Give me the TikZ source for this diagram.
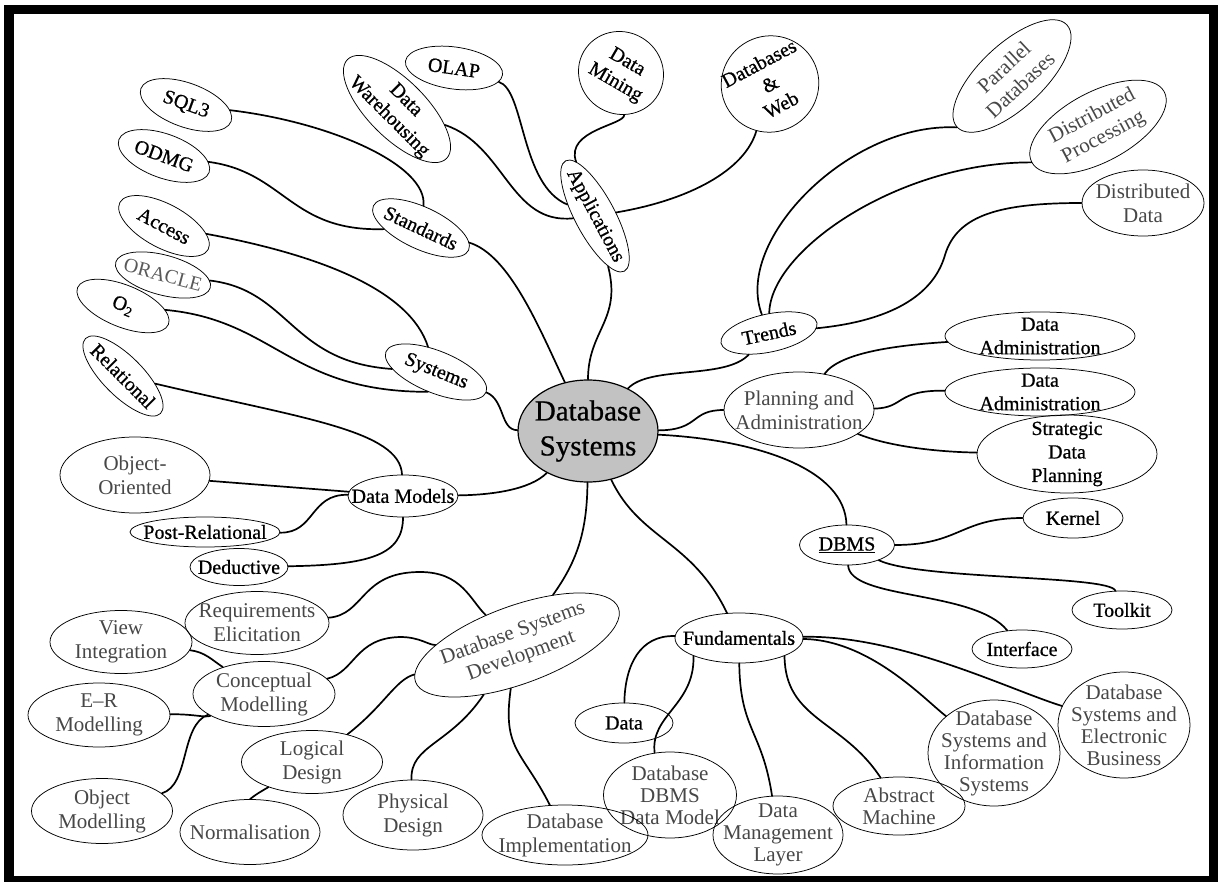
\documentclass[tikz,border=0pt]{standalone}
\usepackage{fontspec}
\setmainfont{Liberation Serif}
\newfontfamily\bkfont{Liberation Serif}[FakeBold=0.7]
\usetikzlibrary{shapes.geometric}
\tikzset{
  el/.style={draw, ellipse, inner sep=0pt, line width=0.75pt},
  tx/.style={font=\bkfont\fontsize{20}{23.5}\selectfont, align=center, inner sep=0pt, text=black},
  gr/.style={text=black!72, font=\rmfamily\fontsize{21}{24}\selectfont},
  gc/.style={text=black!72, font=\rmfamily\fontsize{21}{22}\selectfont},
  conn/.style={line width=1.7pt, line cap=round},
}
\newcommand\mmnode[8]{%
  \node[el, minimum width=#4pt, minimum height=#5pt, rotate=#6] (#1) at (#2,#3) {};
  \node[tx, rotate=#6, #7] (#1t) at (#1.center) {#8};}
\begin{document}
\begin{tikzpicture}[x=1pt,y=-1pt]
\useasboundingbox (0,0) rectangle (1223,882);
\draw[line width=9.5pt] (8.75,9.75) rectangle (1213.5,881);

% centre
\node[el, fill=black!24, line width=1.2pt, minimum width=140pt, minimum height=102pt] (ds) at (588,431) {};
\node[tx, font=\bkfont\fontsize{29}{35}\selectfont] (dst) at (ds.center) {Database\\Systems};

% applications
\mmnode{app}{595}{216}{125}{40}{-62}{}{Applications}
\mmnode{olap}{454}{68}{98}{42}{-8}{}{OLAP}
\mmnode{dw}{397}{109}{140}{58}{-45}{}{Data\\Warehousing}
\mmnode{dmine}{621}{73}{86}{82}{-30}{}{Data\\Mining}
\mmnode{web}{770}{84}{98}{96}{28}{}{Databases\\\&\\Web}

% standards
\mmnode{std}{421}{228}{105}{42}{-25}{}{Standards}
\mmnode{sql}{186}{105}{96}{44}{-20}{}{SQL3}
\mmnode{odmg}{164}{156}{96}{44}{-20}{}{ODMG}

% systems
\mmnode{sys}{436}{372}{108}{42}{-22}{}{Systems}
\mmnode{acc}{164}{226}{100}{44}{-28}{}{Access}
\mmnode{ora}{163}{275}{98}{40}{-15}{text=black!65, font=\rmfamily\fontsize{20}{23}\selectfont}{ORACLE}
\mmnode{otwo}{123}{306}{98}{42}{-22}{}{O\textsubscript{2}}

% data models
\mmnode{dm}{403}{496}{110}{42}{0}{}{Data Models}
\mmnode{rel}{123}{376}{106}{40}{-45}{}{Relational}
\mmnode{oo}{135}{475}{150}{76}{0}{gr}{Object-\\Oriented}
\mmnode{pr}{205}{532}{150}{30}{0}{}{Post-Relational}
\mmnode{ded}{239}{567}{98}{37}{0}{}{Deductive}

% trends
\mmnode{tr}{769}{333}{98}{38}{12}{}{Trends}
\mmnode{par}{1012}{76}{150}{64}{43}{gr}{Parallel\\Databases}
\mmnode{dp}{1098}{127}{150}{70}{28}{gr}{Distributed\\Processing}
\mmnode{dd}{1143}{203}{122}{66}{0}{gr}{Distributed\\Data}

% planning
\mmnode{plan}{799}{410}{150}{76}{0}{gr}{Planning and\\Administration}
\mmnode{daa}{1040}{336}{190}{48}{0}{}{Data\\Administration}
\mmnode{dab}{1040}{392}{190}{48}{0}{}{Data\\Administration}
\mmnode{sdp}{1067}{454}{180}{78}{0}{}{Strategic\\Data\\Planning}

% DBMS
\mmnode{dbms}{847}{545}{95}{40}{0}{}{\underline{DBMS}}
\mmnode{ker}{1073}{518}{100}{40}{0}{}{Kernel}
\mmnode{tool}{1122}{610}{100}{38}{0}{}{Toolkit}
\mmnode{intf}{1022}{649}{100}{38}{0}{}{Interface}

% fundamentals
\mmnode{fund}{739}{638}{128}{50}{0}{}{Fundamentals}
\mmnode{data}{624}{723}{98}{40}{0}{}{Data}
\mmnode{dbdm}{670}{795}{133}{86}{0}{gc}{Database\\DBMS\\Data Model}
\mmnode{dml}{778}{835}{130}{78}{0}{gc}{Data\\Management\\Layer}
\mmnode{am}{899}{806}{132}{58}{0}{gc}{Abstract\\Machine}
\mmnode{dsis}{994}{753}{132}{106}{0}{gc}{Database\\Systems and\\Information\\Systems}
\mmnode{dseb}{1124}{725}{132}{106}{0}{gc}{Database\\Systems and\\Electronic\\Business}

% development
\mmnode{dsd}{517}{645}{216}{78}{20}{gr}{Database Systems\\Development}
\mmnode{re}{257}{623}{144}{63}{0}{gr}{Requirements\\Elicitation}
\mmnode{vi}{121}{642}{142}{63}{0}{gr}{View\\Integration}
\mmnode{cm}{264}{694}{142}{65}{0}{gr}{Conceptual\\Modelling}
\mmnode{er}{99}{715}{142}{64}{0}{gr}{E--R\\Modelling}
\mmnode{ld}{312}{762}{141}{63}{0}{gr}{Logical\\Design}
\mmnode{om}{102}{811}{141}{65}{0}{gr}{Object\\Modelling}
\mmnode{norm}{250}{832}{140}{65}{0}{gr}{Normalisation}
\mmnode{pd}{413}{815}{140}{70}{0}{gr}{Physical\\Design}
\mmnode{dbi}{565}{835}{166}{60}{0}{gr}{Database\\Implementation}

% connectors from centre
\draw[conn] (ds) .. controls (588,330) and (622,320) .. (app);
\draw[conn] (ds) .. controls (540,330) and (510,255) .. (std);
\draw[conn] (sys) .. controls (505,400) and (500,430) .. (ds);
\draw[conn] (ds) .. controls (530,490) and (490,495) .. (dm);
\draw[conn] (ds) .. controls (650,365) and (725,380) .. (tr);
\draw[conn] (ds) .. controls (700,430) and (690,410) .. (plan);
\draw[conn] (ds) .. controls (760,440) and (845,470) .. (dbms);
\draw[conn] (ds) .. controls (640,540) and (692,540) .. (fund);
\draw[conn] (ds) .. controls (587,530) and (578,560) .. (dsd);

% applications
\draw[conn] (app) .. controls (520,185) and (525,90) .. (olap);
\draw[conn] (app) .. controls (510,225) and (505,145) .. (dw);
\draw[conn] (app) .. controls (565,130) and (625,125) .. (dmine);
\draw[conn] (app) .. controls (690,200) and (745,170) .. (web);

% standards
\draw[conn] (std) .. controls (428,165) and (330,122) .. (sql);
\draw[conn] (odmg) .. controls (285,172) and (290,232) .. (std);

% systems
\draw[conn] (acc) .. controls (320,255) and (410,290) .. (sys);
\draw[conn] (ora) .. controls (290,290) and (290,362) .. (sys);
\draw[conn] (otwo) .. controls (275,320) and (290,392) .. (sys.south);

% data models
\draw[conn] (rel) .. controls (300,418) and (400,430) .. (dm);
\draw[conn] (oo) -- (dm);
\draw[conn] (pr) .. controls (315,533) and (310,494) .. (dm);
\draw[conn] (ded) .. controls (370,565) and (403,555) .. (dm);

% trends
\draw[conn] (tr) .. controls (733,240) and (850,122) .. (par.west);
\draw[conn] (tr) .. controls (770,250) and (900,162) .. (dp.west);
\draw[conn] (tr) .. controls (900,320) and (935,290) .. (945,255) .. controls (957,215) and (1000,203) .. (dd);

% planning
\draw[conn] (plan) .. controls (840,352) and (900,345) .. (daa);
\draw[conn] (plan) .. controls (905,408) and (895,390) .. (dab);
\draw[conn] (plan) .. controls (890,447) and (940,452) .. (sdp);

% DBMS
\draw[conn] (dbms) .. controls (960,545) and (960,518) .. (ker);
\draw[conn] (dbms) .. controls (920,580) and (1110,575) .. (tool);
\draw[conn] (dbms) .. controls (850,600) and (975,590) .. (intf);

% fundamentals
\draw[conn] (fund) .. controls (640,635) and (625,665) .. (data);
\draw[conn] (fund.south west) .. controls (695,705) and (650,715) .. (dbdm.110);
\draw[conn] (fund) .. controls (740,730) and (762,730) .. (dml);
\draw[conn] (fund.south east) .. controls (785,720) and (843,720) .. (am);
\draw[conn] (fund) .. controls (870,640) and (925,700) .. (dsis);
\draw[conn] (fund) .. controls (900,635) and (1010,690) .. (dseb);

% development
\draw[conn] (re) .. controls (365,615) and (360,572) .. (420,572) .. controls (462,572) and (470,600) .. (dsd);
\draw[conn] (cm) .. controls (355,672) and (355,638) .. (400,637) .. controls (420,637) and (428,645) .. (dsd);
\draw[conn] (ld) .. controls (385,705) and (395,680) .. (dsd);
\draw[conn] (pd) .. controls (410,745) and (450,745) .. (dsd);
\draw[conn] (dsd) .. controls (502,750) and (522,750) .. (dbi);

% conceptual modelling
\draw[conn] (vi) .. controls (205,652) and (212,660) .. (cm);
\draw[conn] (er) .. controls (195,714) and (205,718) .. (cm);
\draw[conn] (om) .. controls (190,785) and (180,725) .. (cm);
\draw[conn] (norm.north) .. controls (255,795) and (260,792) .. (ld);
\end{tikzpicture}
\end{document}
